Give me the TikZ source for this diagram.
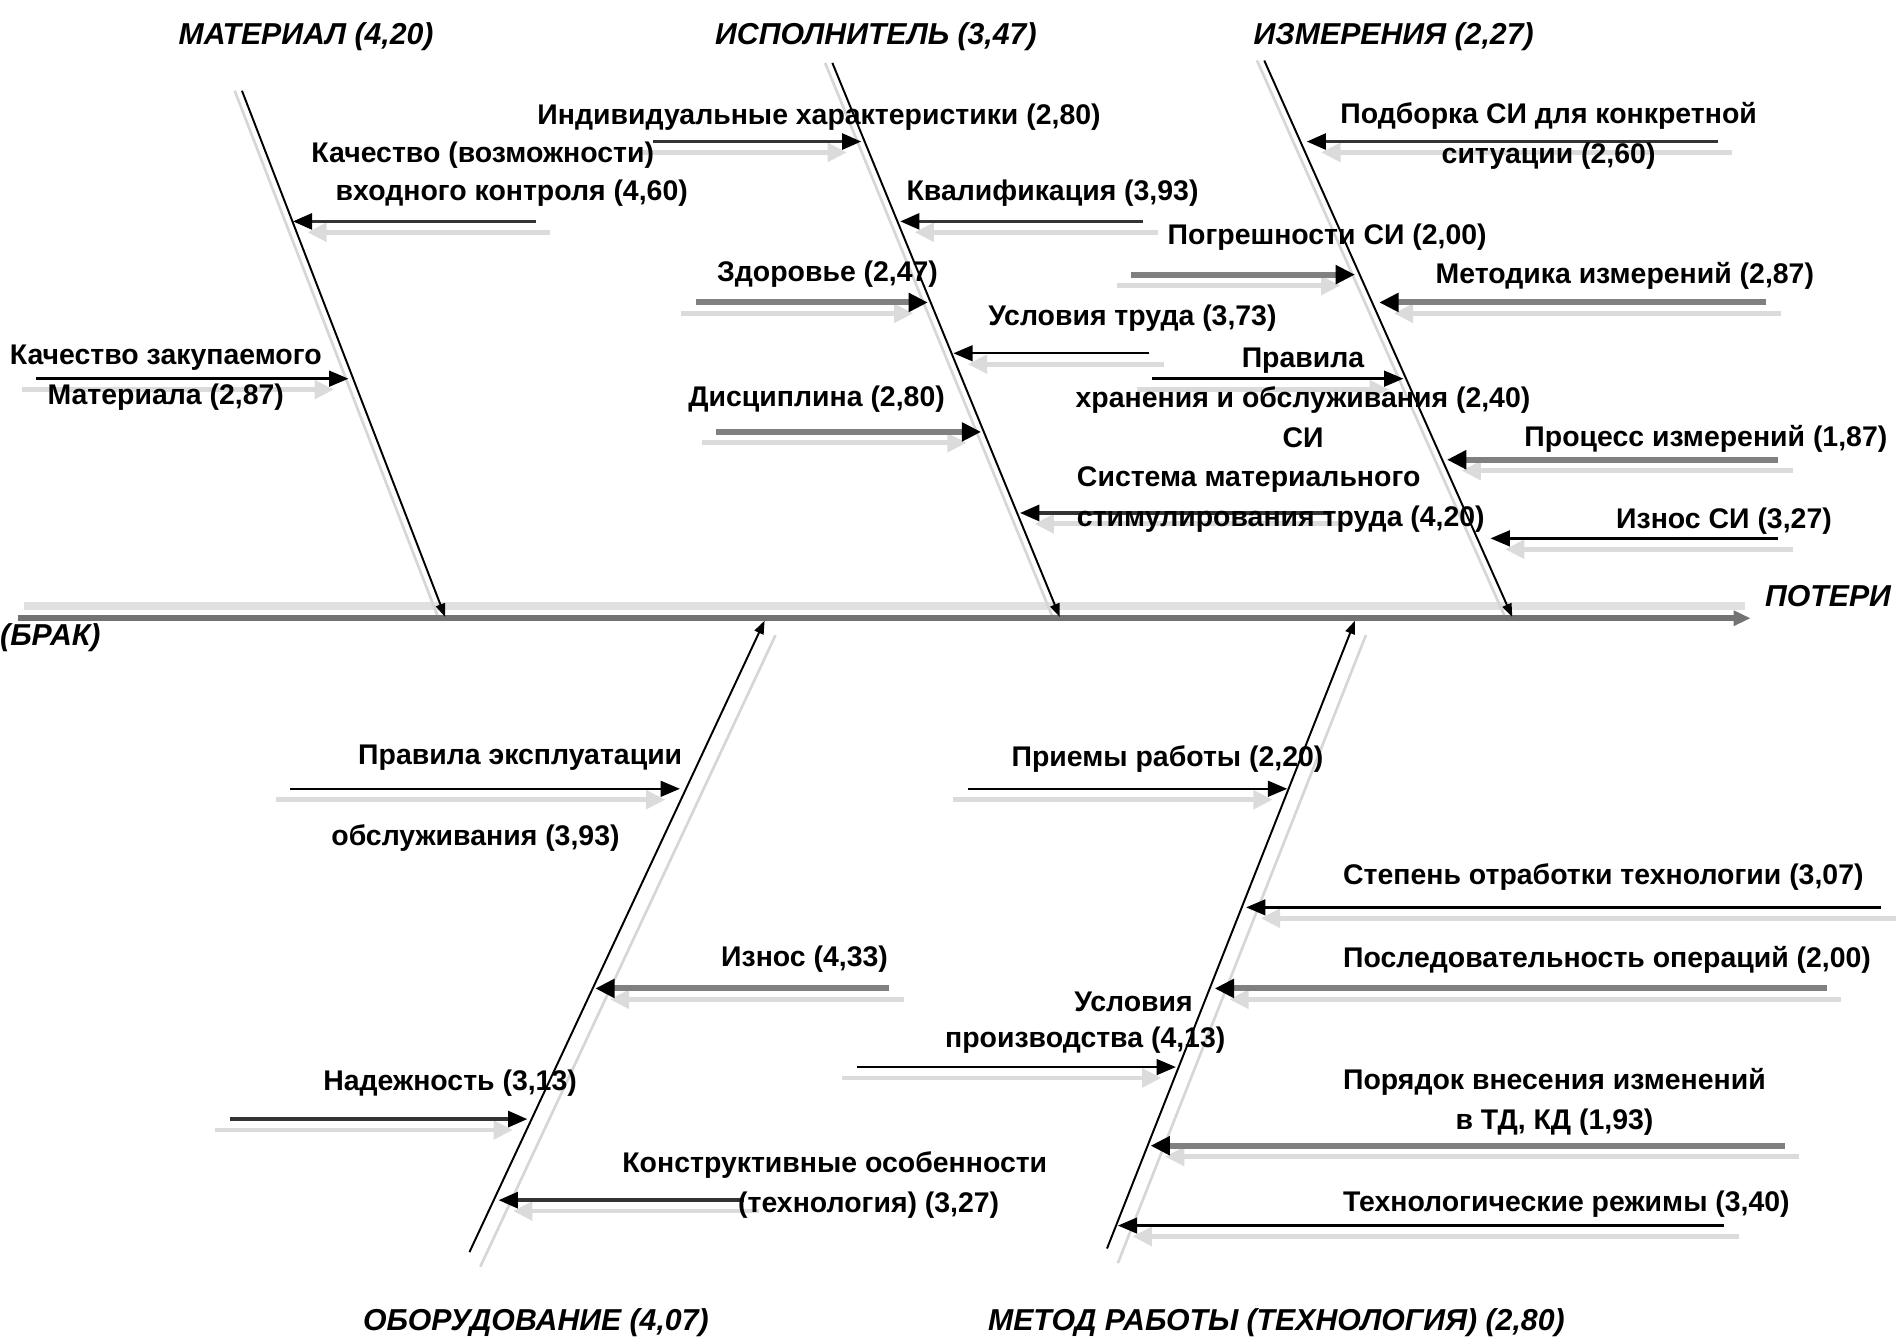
\documentclass[tikz,border=0pt]{standalone}
\usepackage{fontspec}
\setmainfont{Liberation Sans}
\usetikzlibrary{arrows.meta,positioning}

\tikzset{
  cause/.style = {font=\fontsize{23.5}{33}\selectfont\bfseries, inner sep=0pt, align=center},
  bonehead/.style = {font=\fontsize{25}{28}\selectfont\bfseries\itshape, inner sep=0pt},
  rib/.style = {line width=1.6pt, -{Triangle[length=11pt,width=8pt]}},
  ribshade/.style = {line width=2.2pt, black!16},
  blackarrow/.style = {line width=2pt, -{Triangle[length=16pt,width=13pt]}},
  darkarrow/.style = {line width=3pt, black!80, -{Triangle[length=16pt,width=13pt,color=black]}},
  grayarrow/.style = {line width=5pt, black!50, -{Triangle[length=16pt,width=15pt,color=black]}},
  shadeL/.style = {line width=4pt, black!14, -{Triangle[length=16pt,width=15pt]}, transform canvas={shift={(12pt,-9pt)}}},
  shadeR/.style = {line width=4pt, black!14, -{Triangle[length=16pt,width=15pt]}, transform canvas={shift={(-12pt,-9pt)}}}
}

\begin{document}
\begin{tikzpicture}[x=1pt, y=-1pt]
    \useasboundingbox (0,0) rectangle (1568,1110);

    % Define spine and ribs
    \coordinate (spine tail) at (15,511);
    \coordinate (spine head) at (1447,511);
    \coordinate (mat top) at (200,75);   \coordinate (mat end) at (368,510);
    \coordinate (isp top) at (688,52);   \coordinate (isp end) at (876,510);
    \coordinate (izm top) at (1045,50);  \coordinate (izm end) at (1250,510);
    \coordinate (obo bot) at (388,1035); \coordinate (obo end) at (632,513);
    \coordinate (met bot) at (915,1032); \coordinate (met end) at (1120,513);

    % Define cause arrows: t = tail, h = head
    \coordinate (k1 t) at (443,183);  \coordinate (k1 h) at (242,183);
    \coordinate (k2 t) at (30,313);   \coordinate (k2 h) at (288,313);
    \coordinate (i1 t) at (540,117);  \coordinate (i1 h) at (712,117);
    \coordinate (i2 t) at (945,183);  \coordinate (i2 h) at (744,183);
    \coordinate (i3 t) at (575,250);  \coordinate (i3 h) at (767,250);
    \coordinate (i4 t) at (950,292);  \coordinate (i4 h) at (788,292);
    \coordinate (i5 t) at (592,357);  \coordinate (i5 h) at (811,357);
    \coordinate (i6 t) at (1100,424); \coordinate (i6 h) at (843,424);
    \coordinate (z1 t) at (1420,117); \coordinate (z1 h) at (1080,117);
    \coordinate (z2 t) at (935,227);  \coordinate (z2 h) at (1120,227);
    \coordinate (z3 t) at (1460,250); \coordinate (z3 h) at (1140,250);
    \coordinate (z4 t) at (952,313);  \coordinate (z4 h) at (1160,313);
    \coordinate (z5 t) at (1470,380); \coordinate (z5 h) at (1196,380);
    \coordinate (z6 t) at (1470,445); \coordinate (z6 h) at (1232,445);
    \coordinate (o1 t) at (240,652);  \coordinate (o1 h) at (562,652);
    \coordinate (o2 t) at (735,817);  \coordinate (o2 h) at (492,817);
    \coordinate (o3 t) at (190,925);  \coordinate (o3 h) at (436,925);
    \coordinate (o4 t) at (615,992);  \coordinate (o4 h) at (412,992);
    \coordinate (m1 t) at (800,652);  \coordinate (m1 h) at (1064,652);
    \coordinate (m2 t) at (1555,750); \coordinate (m2 h) at (1030,750);
    \coordinate (m3 t) at (1510,817); \coordinate (m3 h) at (1004,817);
    \coordinate (m4 t) at (708,882);  \coordinate (m4 h) at (972,882);
    \coordinate (m5 t) at (1475,947); \coordinate (m5 h) at (951,947);
    \coordinate (m6 t) at (1425,1013); \coordinate (m6 h) at (924,1013);

    % Shadows
    \draw[line width=6pt, black!12] (spine tail) ++(5,-10) -- ([shift={(-5,-10)}]spine head);
    \foreach \r in {mat,isp,izm}
        \draw[ribshade, transform canvas={xshift=-6pt}] (\r\space top) -- (\r\space end);
    \foreach \r in {obo,met}
        \draw[ribshade, transform canvas={shift={(9pt,-12pt)}}] (\r\space bot) -- (\r\space end);
    \foreach \a in {k1,i2,i4,i6,z1,z3,z5,z6,o2,o4,m2,m3,m5,m6}
        \draw[shadeL] (\a\space t) -- (\a\space h);
    \foreach \a in {k2,i1,i3,i5,z2,z4,o1,o3,m1,m4}
        \draw[shadeR] (\a\space t) -- (\a\space h);

    % Spine and ribs
    \draw[line width=5pt, black!55, -{Triangle[length=14pt,width=12pt]}] (spine tail) -- (spine head);
    \draw[rib] (mat top) -- (mat end);
    \draw[rib] (isp top) -- (isp end);
    \draw[rib] (izm top) -- (izm end);
    \draw[rib] (obo bot) -- (obo end);
    \draw[rib] (met bot) -- (met end);

    % Cause arrows
    \foreach \a in {k2,i4,z4,z6,o1,m1,m2,m4,m6}
        \draw[blackarrow] (\a\space t) -- (\a\space h);
    \foreach \a in {k1,i1,i2,i6,z1,o3,o4}
        \draw[darkarrow] (\a\space t) -- (\a\space h);
    \foreach \a in {i3,i5,z2,z3,z5,o2,m3,m5}
        \draw[grayarrow] (\a\space t) -- (\a\space h);

    % Headings
    \node[bonehead] (h mat) at (253,30) {МАТЕРИАЛ (4,20)};
    \node[bonehead] (h isp) at (724,30) {ИСПОЛНИТЕЛЬ (3,47)};
    \node[bonehead] (h izm) at (1152,30) {ИЗМЕРЕНИЯ (2,27)};
    \node[bonehead] (h obo) at (443,1093) {ОБОРУДОВАНИЕ (4,07)};
    \node[bonehead] (h met) at (1055,1093) {МЕТОД РАБОТЫ (ТЕХНОЛОГИЯ) (2,80)};
    \node[bonehead] (h pot) at (1511,493) {ПОТЕРИ};
    \node[bonehead, anchor=west] (h brak) at (0,527) {(БРАК)};

    % Cause labels
    \node[cause] (k1 a) at (399,128) {Качество (возможности)};
    \node[cause] (k1 b) at (423,160) {входного контроля (4,60)};
    \node[cause] (k2 l) at (137,312) {Качество закупаемого\\Материала (2,87)};
    \node[cause] (i1 l) at (677,97) {Индивидуальные характеристики (2,80)};
    \node[cause] (i2 l) at (870,160) {Квалификация (3,93)};
    \node[cause] (i3 l) at (684,227) {Здоровье (2,47)};
    \node[cause] (i4 l) at (936,263) {Условия труда (3,73)};
    \node[cause] (i5 l) at (675,330) {Дисциплина (2,80)};
    \node[cause, anchor=west, align=left] (i6 l) at (890,413) {Система материального\\стимулирования труда (4,20)};
    \node[cause] (z1 l) at (1280,112) {Подборка СИ для конкретной\\ситуации (2,60)};
    \node[cause] (z2 l) at (1097,196) {Погрешности СИ (2,00)};
    \node[cause] (z3 l) at (1343,228) {Методика измерений (2,87)};
    \node[cause] (z4 l) at (1077,329) {Правила\\хранения и обслуживания (2,40)\\СИ};
    \node[cause] (z5 l) at (1410,363) {Процесс измерений (1,87)};
    \node[cause] (z6 l) at (1425,431) {Износ СИ (3,27)};
    \node[cause] (o1 a) at (430,626) {Правила эксплуатации};
    \node[cause] (o1 b) at (393,693) {обслуживания (3,93)};
    \node[cause] (o2 l) at (665,793) {Износ (4,33)};
    \node[cause] (o3 l) at (372,895) {Надежность (3,13)};
    \node[cause] (o4 a) at (690,963) {Конструктивные особенности};
    \node[cause] (o4 b) at (718,996) {(технология) (3,27)};
    \node[cause] (m1 l) at (965,627) {Приемы работы (2,20)};
    \node[cause, anchor=west] (m2 l) at (1110,725) {Степень отработки технологии (3,07)};
    \node[cause, anchor=west] (m3 l) at (1110,793) {Последовательность операций (2,00)};
    \node[cause] (m4 a) at (937,828) {Условия};
    \node[cause] (m4 b) at (897,860) {производства (4,13)};
    \node[cause, anchor=west] (m5 l) at (1110,911) {Порядок внесения изменений\\в ТД, КД (1,93)};
    \node[cause, anchor=west] (m6 l) at (1110,995) {Технологические режимы (3,40)};
\end{tikzpicture}
\end{document}
